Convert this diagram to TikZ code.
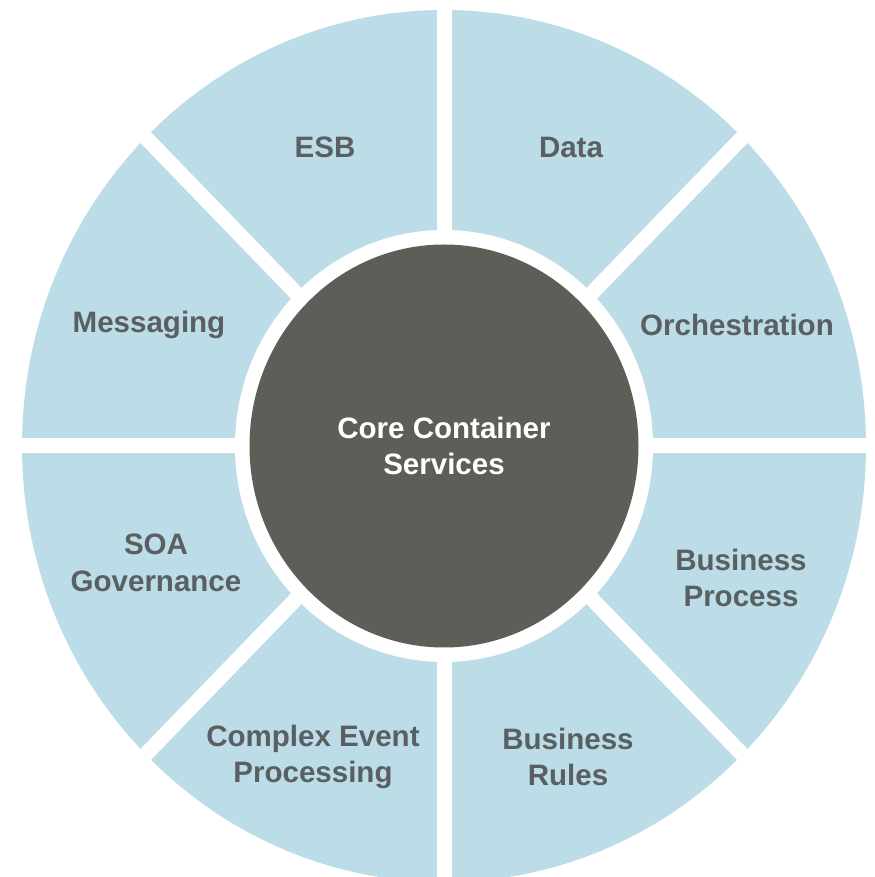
\documentclass[tikz,border=0pt]{standalone}
\usepackage{fontspec}
\setmainfont{Liberation Sans}
\usepackage{tikz}
\usetikzlibrary{shapes.geometric}
\definecolor{paleblue}{RGB}{188,220,232}
\definecolor{slate}{RGB}{94,94,88}
\definecolor{labelgray}{RGB}{90,95,98}
\tikzstyle{sector} = [text centered, text=labelgray, font=\fontsize{8.4}{10.4}\selectfont\bfseries, align=center]
\tikzstyle{corebox} = [ellipse, minimum width=3.89cm, minimum height=4.03cm, fill=slate, text=white, font=\fontsize{8.4}{10.4}\selectfont\bfseries, align=center, inner sep=0pt]
\tikzstyle{gap} = [white, line width=0.15cm]

\begin{document}
\begin{tikzpicture}
\useasboundingbox (0,0) rectangle (8.74,8.77);
\fill[white] (0,0) rectangle (8.74,8.77);
\coordinate (c) at (4.44,4.31);
\fill[paleblue] (c) ellipse [x radius=4.22cm, y radius=4.36cm];
\begin{scope}[shift={(c)}, yscale=1.034]
\foreach \a in {0,45,...,315}
  \draw[gap] (0,0) -- (\a:4.6);
\end{scope}
\fill[white] (c) ellipse [x radius=2.09cm, y radius=2.16cm];
\node (core) [corebox] at (c) {Core Container\\Services};
%labels
\node (esb) [sector] at (3.25,7.30) {ESB};
\node (data) [sector] at (5.71,7.30) {Data};
\node (messaging) [sector] at (1.49,5.52) {Messaging};
\node (orch) [sector] at (7.37,5.52) {Orchestration};
\node (soa) [sector] at (1.56,3.14) {SOA\\Governance};
\node (bproc) [sector] at (7.41,2.99) {Business\\Process};
\node (cep) [sector] at (3.13,1.20) {Complex Event\\Processing};
\node (brules) [sector] at (5.68,1.20) {Business\\Rules};
\end{tikzpicture}
\end{document}
